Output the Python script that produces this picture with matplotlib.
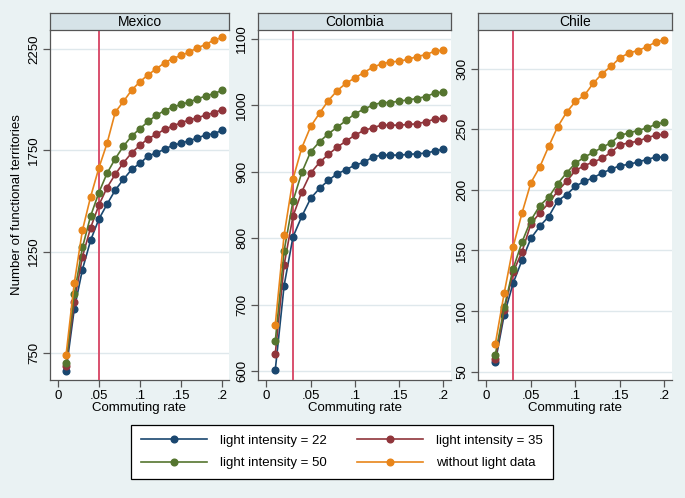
import matplotlib.pyplot as plt

plt.rcParams['font.family'] = ['Liberation Sans', 'DejaVu Sans']

rate = [0.01, 0.02, 0.03, 0.04, 0.05, 0.06, 0.07, 0.08, 0.09, 0.10,
        0.11, 0.12, 0.13, 0.14, 0.15, 0.16, 0.17, 0.18, 0.19, 0.20]

series_names = ["light intensity = 22", "light intensity = 35",
                "light intensity = 50", "without light data"]
series_colors = ["#1a476f", "#90353b", "#55752f", "#e8851a"]

mexico_22 = [660, 964, 1161, 1306, 1410, 1484, 1554, 1607, 1656, 1686,
             1722, 1738, 1755, 1776, 1785, 1798, 1811, 1826, 1832, 1849]
mexico_35 = [684, 1000, 1224, 1368, 1479, 1566, 1632, 1689, 1738, 1775,
             1808, 1829, 1854, 1870, 1887, 1900, 1911, 1924, 1936, 1951]
mexico_50 = [697, 1038, 1270, 1426, 1541, 1637, 1709, 1771, 1821, 1857,
             1893, 1923, 1947, 1964, 1977, 1989, 2005, 2018, 2031, 2046]
mexico_nolight = [737, 1092, 1355, 1521, 1663, 1785, 1939, 1992, 2048, 2089,
                  2124, 2153, 2183, 2204, 2219, 2236, 2257, 2273, 2295, 2308]

colombia_22 = [602, 729, 802, 833, 860, 875, 887, 897, 903, 910,
               914, 922, 925, 925, 925, 926, 927, 928, 931, 934]
colombia_35 = [626, 760, 833, 870, 898, 914, 926, 937, 946, 955,
               962, 966, 970, 970, 970, 971, 972, 975, 979, 980]
colombia_50 = [645, 781, 856, 899, 930, 945, 957, 967, 977, 987,
               994, 1000, 1004, 1004, 1006, 1008, 1010, 1013, 1018, 1020]
colombia_nolight = [670, 805, 889, 936, 968, 988, 1007, 1022, 1033, 1041,
                    1049, 1057, 1062, 1065, 1066, 1069, 1073, 1076, 1081, 1083]

chile_22 = [58, 97, 123, 142, 160, 170, 178, 191, 196, 203,
            207, 210, 214, 217, 220, 221, 223, 225, 227, 227]
chile_35 = [60, 101, 132, 149, 172, 181, 189, 199, 207, 216,
            220, 223, 226, 231, 237, 239, 240, 243, 245, 246]
chile_50 = [64, 103, 135, 157, 175, 187, 194, 205, 214, 222,
            227, 231, 235, 239, 245, 247, 249, 251, 254, 256]
chile_nolight = [73, 115, 153, 181, 206, 219, 236, 252, 264, 273,
                 278, 288, 296, 302, 309, 313, 315, 318, 322, 324]

panels = [
    ("Mexico", [mexico_22, mexico_35, mexico_50, mexico_nolight], 0.05,
     [750, 1250, 1750, 2250], (615, 2345)),
    ("Colombia", [colombia_22, colombia_35, colombia_50, colombia_nolight], 0.03,
     [600, 700, 800, 900, 1000, 1100], (587, 1113)),
    ("Chile", [chile_22, chile_35, chile_50, chile_nolight], 0.03,
     [50, 100, 150, 200, 250, 300], (43, 332)),
]

xticks = [0, 0.05, 0.1, 0.15, 0.2]
xticklabels = ["0", ".05", ".1", ".15", ".2"]

bg = "#eaf2f3"
W, H = 685, 498
fig = plt.figure(figsize=(W / 100, H / 100), dpi=100, facecolor=bg)

# panel boxes in pixels: left, width
boxes = [(50, 179), (258, 193), (478, 194)]
top, bottom = 30, 380
strip_top = 13

for (name, ys, vline, yticks, ylim), (left, width) in zip(panels, boxes):
    ax = fig.add_axes([left / W, 1 - bottom / H, width / W, (bottom - top) / H])
    ax.set_facecolor("white")
    for s in ["top", "right"]:
        ax.spines[s].set_visible(False)
    for s in ["left", "bottom"]:
        ax.spines[s].set_color("#555555")
        ax.spines[s].set_linewidth(0.9)
    ax.axvline(vline, color="#d9506e", lw=1.4, zorder=3)
    for y, c in zip(ys, series_colors):
        ax.plot(rate, y, color=c, marker="o", ms=4.8, lw=1.2, zorder=4)
    ax.set_xlim(-0.0095, 0.2085)
    ax.set_ylim(*ylim)
    ax.set_xticks(xticks)
    ax.set_xticklabels(xticklabels)
    ax.set_yticks(yticks)
    ax.set_yticklabels([str(v) for v in yticks], rotation=90, va="center")
    ax.tick_params(length=5, width=0.9, color="#555555", labelsize=9.5, pad=2)
    ax.grid(axis="y", color="#dfe8ec", lw=1)
    ax.set_axisbelow(True)
    ax.set_xlabel("Commuting rate", fontsize=9.5, labelpad=0)

    sx = fig.add_axes([left / W, 1 - top / H, width / W, (top - strip_top) / H])
    sx.set_facecolor("#d6e3e8")
    sx.set_xticks([])
    sx.set_yticks([])
    for s in sx.spines.values():
        s.set_color("#555555")
        s.set_linewidth(0.9)
    sx.text(0.5, 0.45, name, ha="center", va="center", fontsize=10,
            transform=sx.transAxes)

fig.text(17 / W, 1 - 205 / H, "Number of functional territories",
         rotation=90, ha="center", va="center", fontsize=9.5)

handles = [plt.Line2D([], [], color=c, marker="o", ms=4.8, lw=1.2)
           for c in series_colors]
# legend fills column-wise; reorder so rows read 22, 35 / 50, without
order = [0, 2, 1, 3]
leg = fig.legend([handles[i] for i in order], [series_names[i] for i in order],
                 ncol=2, loc="center",
                 bbox_to_anchor=(342 / W, 1 - 452 / H), fontsize=9.5,
                 handlelength=5, columnspacing=2.3, handletextpad=1.0,
                 frameon=True, fancybox=False, edgecolor="black",
                 framealpha=1, borderpad=0.75, labelspacing=0.75)
leg.get_frame().set_linewidth(0.9)

fig.savefig("out.png", dpi=100, facecolor=bg)
